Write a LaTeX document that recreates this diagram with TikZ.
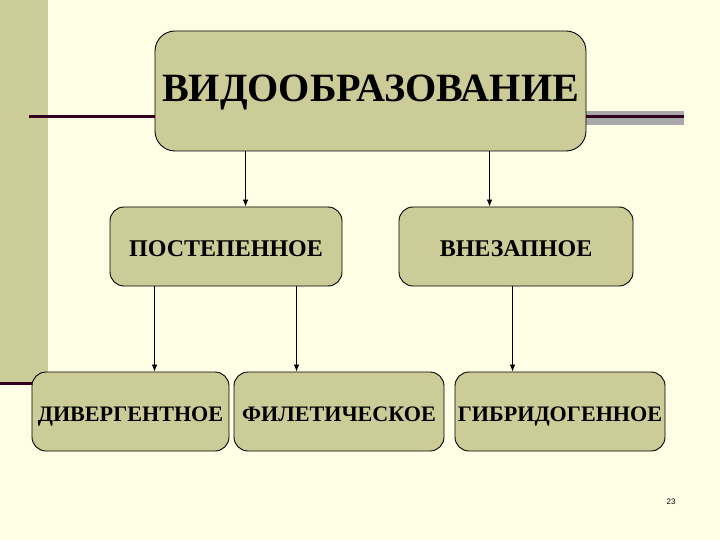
\documentclass[tikz,border=0pt]{standalone}
\usepackage{fontspec}
\setmainfont{Liberation Serif}
\newfontfamily\numfont{Liberation Sans}
\usetikzlibrary{arrows.meta,calc}
\definecolor{bgc}{HTML}{FFFFE5}
\definecolor{khaki}{HTML}{CCCC99}
\definecolor{darkline}{HTML}{33001F}
\definecolor{grayband}{HTML}{A8A8A8}
\tikzset{
  box/.style={draw=black, line width=0.9bp, fill=khaki, inner sep=0pt, text height=0.66em+14bp, text depth=0pt},
  arr/.style={-{Latex[length=7bp,width=5.5bp]}, line width=0.7bp},
  deco/.style={draw=darkline, line width=3bp},
}
\begin{document}
\begin{tikzpicture}[x=1bp,y=-1bp]
\fill[bgc] (0,0) rectangle (720,540);
\useasboundingbox (0,0) rectangle (720,540);
\fill[khaki] (0,0) rectangle (48,383);
\fill[grayband] (586,111) rectangle (684,125);
\coordinate (tl) at (29,117);
\coordinate (tr) at (684,117);
\coordinate (bl) at (0,383.5);
\node[box, rounded corners=20bp, minimum width=431bp, minimum height=120bp, font=\bfseries\fontsize{40.3}{42}\selectfont] (main) at (370.5,91) {ВИДООБРАЗОВАНИЕ};
\node[box, rounded corners=14bp, minimum width=232bp, minimum height=79bp, font=\bfseries\fontsize{24.1}{26}\selectfont] (post) at (226,246.5) {ПОСТЕПЕННОЕ};
\node[box, rounded corners=14bp, minimum width=234bp, minimum height=79bp, font=\bfseries\fontsize{24.1}{26}\selectfont] (vnez) at (516,246.5) {ВНЕЗАПНОЕ};
\node[box, rounded corners=14bp, minimum width=197bp, minimum height=79bp, font=\bfseries\fontsize{22.2}{24}\selectfont] (div) at (130.5,411.5) {ДИВЕРГЕНТНОЕ};
\node[box, rounded corners=14bp, minimum width=210bp, minimum height=79bp, font=\bfseries\fontsize{22.2}{24}\selectfont] (fil) at (339,411.5) {ФИЛЕТИЧЕСКОЕ};
\node[box, rounded corners=14bp, minimum width=210bp, minimum height=79bp, font=\bfseries\fontsize{22.2}{24}\selectfont] (gib) at (560,411.5) {ГИБРИДОГЕННОЕ};
\draw[deco] (tl) -- (tl -| main.west);
\draw[deco] (main.east |- tr) -- (tr);
\draw[deco] (bl) -- (bl -| div.west);
\draw[arr] ([xshift=91bp]main.south west) -- ([xshift=91bp]main.south west |- post.north);
\draw[arr] ([xshift=335bp]main.south west) -- ([xshift=335bp]main.south west |- vnez.north);
\draw[arr] ([xshift=45bp]post.south west) -- ([xshift=45bp]post.south west |- div.north);
\draw[arr] ([xshift=187bp]post.south west) -- ([xshift=187bp]post.south west |- fil.north);
\draw[arr] ([xshift=114bp]vnez.south west) -- ([xshift=114bp]vnez.south west |- gib.north);
\node[font=\numfont\fontsize{8}{9}\selectfont, inner sep=0pt] (num) at (671,502) {23};
\end{tikzpicture}
\end{document}
